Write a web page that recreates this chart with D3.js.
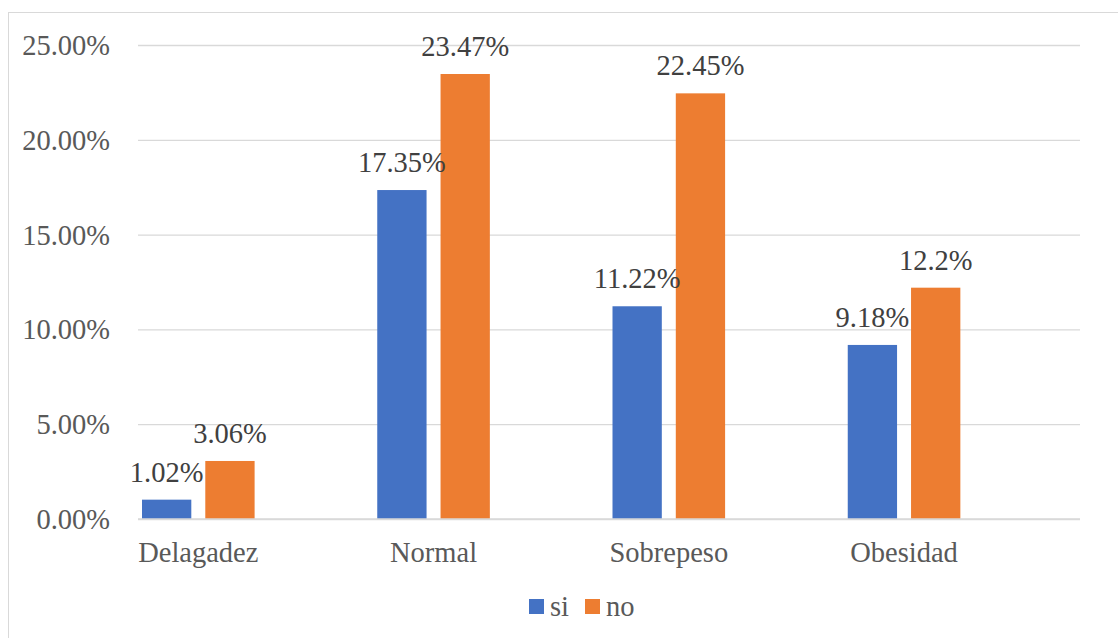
<!DOCTYPE html>
<html>
<head>
<meta charset="utf-8">
<script src="https://cdn.jsdelivr.net/npm/d3@7"></script>
<style>
  html, body { margin: 0; padding: 0; background: #fff; }
  svg { display: block; }
</style>
</head>
<body>
<svg id="chart" width="1118" height="638"></svg>
<script>
// Weight-status categories and the share of respondents per answer
const categories = ["Delagadez", "Normal", "Sobrepeso", "Obesidad"];
const seriesNames = ["si", "no"];
const siValues = [1.02, 17.35, 11.22, 9.18];
const noValues = [3.06, 23.47, 22.45, 12.2];
const yTicks = [0, 5, 10, 15, 20, 25];

const FONT = "'Liberation Serif', 'DejaVu Serif', 'Times New Roman', Times, serif";
const FS = 28.5;
const colors = { si: "#4472C4", no: "#ED7D31" };
const svg = d3.select("#chart").style("font-family", FONT);

// chart frame
svg.append("rect")
  .attr("x", 8.5).attr("y", 12.5)
  .attr("width", 1200).attr("height", 700)
  .attr("fill", "none").attr("stroke", "#d9d9d9").attr("stroke-width", 1);

const plot = { left: 138, right: 1079, top: 45, bottom: 519 };

const y = d3.scaleLinear().domain([0, 25]).range([plot.bottom, plot.top]);
const x = d3.scaleBand().domain(categories).range([plot.left, plot.right]).paddingInner(0).paddingOuter(0);
const groupOffset = 4;
const groupWidth = 112.6;
const xs = d3.scaleBand().domain(seriesNames).range([0, groupWidth]).paddingInner(0.221).paddingOuter(0);

// horizontal gridlines + value axis
const yAxis = d3.axisLeft(y)
  .tickValues(yTicks)
  .tickSize(-(plot.right - plot.left + 1))
  .tickPadding(28)
  .tickFormat(d => d.toFixed(2) + "%");

const gy = svg.append("g")
  .attr("transform", `translate(${plot.left},0)`)
  .call(yAxis)
  .attr("font-family", null)
  .attr("font-size", null);
gy.select(".domain").remove();
gy.selectAll(".tick line").attr("stroke", "#d9d9d9").attr("stroke-width", 1.3);
gy.selectAll(".tick text")
  .style("font-family", FONT)
  .attr("fill", "#595959")
  .attr("font-size", FS)
  .attr("dy", "0.33em");

// bars
const rows = categories.map((c, i) => ({ cat: c, si: siValues[i], no: noValues[i] }));
const groups = svg.append("g").selectAll("g")
  .data(rows).join("g")
  .attr("transform", d => `translate(${x(d.cat) + groupOffset},0)`);

groups.selectAll("rect")
  .data(d => seriesNames.map(s => ({ key: s, value: d[s] })))
  .join("rect")
  .attr("x", d => xs(d.key))
  .attr("y", d => y(d.value))
  .attr("width", xs.bandwidth())
  .attr("height", d => y(0) - y(d.value))
  .attr("fill", d => colors[d.key]);

// data labels
groups.selectAll("text")
  .data(d => seriesNames.map(s => ({ key: s, value: d[s] })))
  .join("text")
  .style("font-family", FONT)
  .attr("x", d => xs(d.key) + xs.bandwidth() / 2)
  .attr("y", d => y(d.value) - 18)
  .attr("text-anchor", "middle")
  .attr("font-size", FS)
  .attr("fill", "#404040")
  .text(d => `${d.value}%`);

// category axis
const xAxisG = svg.append("g");
xAxisG.append("line")
  .attr("x1", plot.left).attr("x2", plot.right + 1)
  .attr("y1", y(0)).attr("y2", y(0))
  .attr("stroke", "#d9d9d9").attr("stroke-width", 1.3);
xAxisG.selectAll("text")
  .data(categories).join("text")
  .style("font-family", FONT)
  .attr("x", d => x(d) + groupOffset + groupWidth / 2)
  .attr("y", 562)
  .attr("text-anchor", "middle")
  .attr("font-size", FS)
  .attr("fill", "#595959")
  .text(d => d);

// legend
const legendItems = [
  { key: "si", x: 529 },
  { key: "no", x: 585 }
];
const legend = svg.append("g");
legend.selectAll("rect")
  .data(legendItems).join("rect")
  .attr("x", d => d.x).attr("y", 599)
  .attr("width", 15).attr("height", 15)
  .attr("fill", d => colors[d.key]);
legend.selectAll("text")
  .data(legendItems).join("text")
  .style("font-family", FONT)
  .attr("x", d => d.x + 21).attr("y", 616)
  .attr("font-size", FS)
  .attr("fill", "#595959")
  .text(d => d.key);
</script>
</body>
</html>
